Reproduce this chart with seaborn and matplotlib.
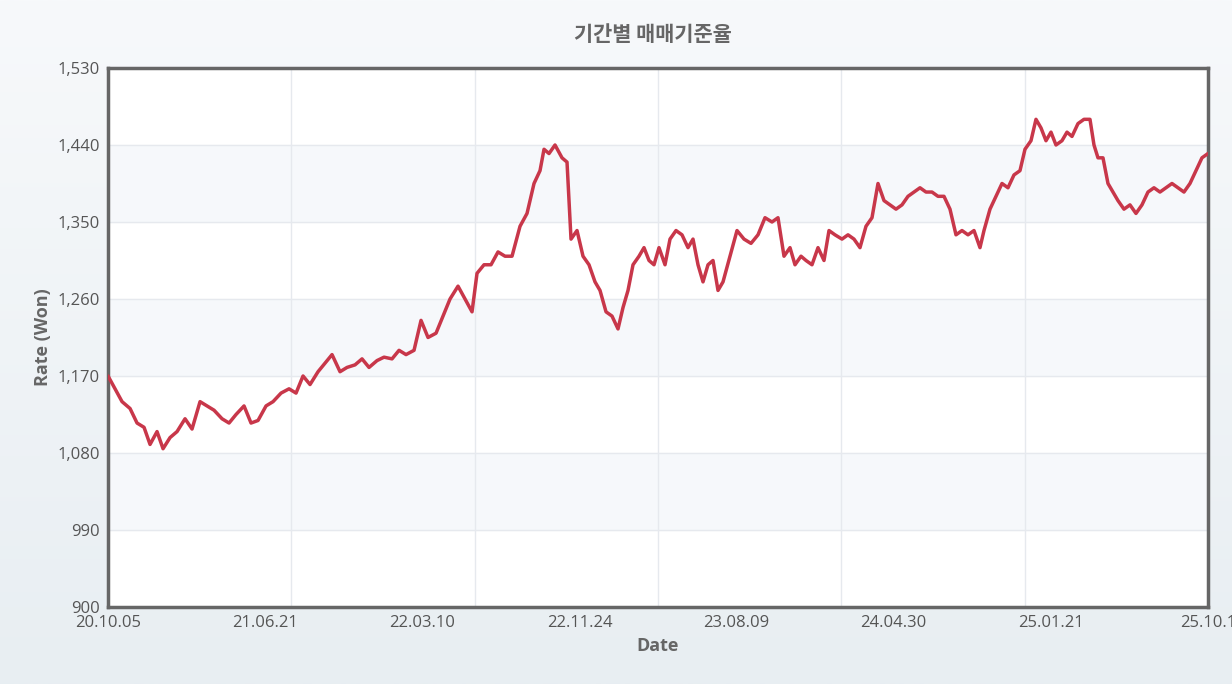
import matplotlib.pyplot as plt
import seaborn as sns
import numpy as np
import pandas as pd

# Rate readings (won), position = trading-day position along the axis (0..1100)
pos = [0, 7, 14, 22, 29, 36, 42, 49, 55, 62, 69, 77, 84, 92, 99, 106, 114, 121, 128, 136,
       143, 150, 158, 165, 173, 181, 188, 195, 202, 210, 217, 224, 232, 239, 247, 254, 261, 269, 276, 284,
       291, 298, 306, 313, 320, 328, 335, 342, 350, 357, 364, 369, 376, 383, 390, 397, 404, 412, 419, 426,
       432, 436, 441, 447, 454, 459, 463, 469, 475, 481, 487, 492, 498, 504, 510, 515, 520, 525, 531, 536,
       541, 546, 551, 557, 562, 568, 574, 580, 585, 590, 595, 600, 605, 610, 615, 622, 629, 636, 643, 650,
       657, 664, 670, 676, 682, 687, 693, 698, 704, 710, 716, 721, 727, 734, 740, 746, 752, 758, 764, 770,
       776, 782, 788, 794, 800, 806, 812, 818, 824, 830, 836, 842, 848, 854, 860, 866, 872, 876, 882, 888,
       894, 900, 906, 912, 917, 923, 928, 933, 938, 943, 948, 954, 959, 964, 970, 976, 982, 986, 990, 995,
       1000, 1005, 1010, 1016, 1022, 1028, 1034, 1040, 1046, 1052, 1058, 1064, 1070, 1076, 1082, 1088, 1094, 1100]
rate = [1170, 1155, 1140, 1132, 1115, 1110, 1090, 1105, 1085, 1098, 1105, 1120, 1108, 1140, 1135, 1130, 1120, 1115, 1125, 1135,
        1115, 1118, 1135, 1140, 1150, 1155, 1150, 1170, 1160, 1175, 1185, 1195, 1175, 1180, 1183, 1190, 1180, 1188, 1192, 1190,
        1200, 1195, 1200, 1235, 1215, 1220, 1240, 1260, 1275, 1260, 1245, 1290, 1300, 1300, 1315, 1310, 1310, 1345, 1360, 1395,
        1410, 1435, 1430, 1440, 1425, 1420, 1330, 1340, 1310, 1300, 1280, 1270, 1245, 1240, 1225, 1250, 1270, 1300, 1310, 1320,
        1305, 1300, 1320, 1300, 1330, 1340, 1335, 1320, 1330, 1300, 1280, 1300, 1305, 1270, 1280, 1310, 1340, 1330, 1325, 1335,
        1355, 1350, 1355, 1310, 1320, 1300, 1310, 1305, 1300, 1320, 1305, 1340, 1335, 1330, 1335, 1330, 1320, 1345, 1355, 1395,
        1375, 1370, 1365, 1370, 1380, 1385, 1390, 1385, 1385, 1380, 1380, 1365, 1335, 1340, 1335, 1340, 1320, 1340, 1365, 1380,
        1395, 1390, 1405, 1410, 1435, 1445, 1470, 1460, 1445, 1455, 1440, 1445, 1455, 1450, 1465, 1470, 1470, 1440, 1425, 1425,
        1395, 1385, 1375, 1365, 1370, 1360, 1370, 1385, 1390, 1385, 1390, 1395, 1390, 1385, 1395, 1410, 1425, 1430]
tick_labels = ["20.10.05", "21.06.21", "22.03.10", "22.11.24", "23.08.09", "24.04.30", "25.01.21", "25.10.1"]
y_ticks = [900, 990, 1080, 1170, 1260, 1350, 1440, 1530]

df = pd.DataFrame({"pos": pos, "rate": rate})

sns.set_style("white")
plt.rcParams["font.family"] = ["Open Sans", "Noto Sans CJK KR", "DejaVu Sans"]

fig = plt.figure(figsize=(12.32, 6.84), dpi=100)
# light gradient background
bg = fig.add_axes([0, 0, 1, 1], zorder=-10)
grad = np.linspace(0, 1, 256).reshape(-1, 1)
bg.imshow(grad, aspect="auto", cmap=plt.matplotlib.colors.LinearSegmentedColormap.from_list(
    "bg", ["#f7f9fb", "#e8eef2"]), extent=[0, 1, 0, 1])
bg.axis("off")

ax = fig.add_axes([0.0877, 0.1126, 0.8928, 0.788])
ax.set_facecolor("white")
for lo in [990, 1170, 1350]:
    ax.axhspan(lo, lo + 90, color="#f6f8fb", zorder=0)

sns.lineplot(data=df, x="pos", y="rate", ax=ax, color="#c8374a", linewidth=2.5, zorder=3)

ax.set_xlim(0, 1100)
ax.set_ylim(900, 1530)
ax.set_yticks(y_ticks)
ax.set_yticklabels([f"{v:,}" for v in y_ticks])
# labels spread over 8 positions, grid lines over 6 intervals
ax.set_xticks(np.linspace(0, 1100, len(tick_labels)))
ax.set_xticklabels(tick_labels)
ax.set_xticks(np.linspace(0, 1100, 7), minor=True)
ax.grid(False, axis="x", which="major")
ax.grid(True, axis="x", which="minor", color="#e6e9ee", linewidth=1)
ax.grid(True, axis="y", color="#e6e9ee", linewidth=1)
ax.tick_params(axis="both", which="both", labelsize=12, colors="#555555", length=0, pad=6)
for s in ax.spines.values():
    s.set_color("#666666")
    s.set_linewidth(2.5)

ax.set_xlabel("Date", fontsize=13, fontweight="bold", color="#666666")
ax.set_ylabel("Rate (Won)", fontsize=13, fontweight="bold", color="#666666")
fig.text(0.53, 0.95, "기간별 매매기준율", ha="center", va="center", fontsize=15,
         fontweight="bold", color="#666666", family=["Noto Sans CJK KR", "DejaVu Sans"])

fig.savefig("out.png", dpi=100)
